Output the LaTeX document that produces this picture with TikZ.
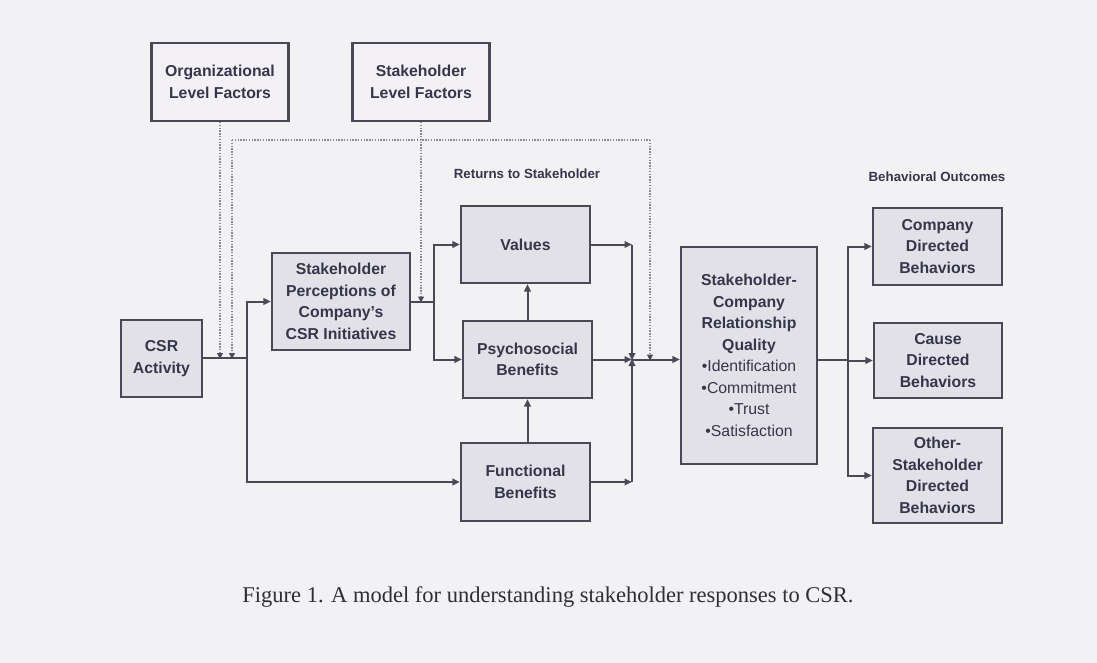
\documentclass[tikz,border=0pt]{standalone}
\usepackage{fontspec}
\setmainfont{Liberation Serif}
\setsansfont{Liberation Sans}
\usetikzlibrary{arrows.meta}
\definecolor{bg}{HTML}{F2F2F4}
\definecolor{boxfill}{HTML}{E3E1E8}
\definecolor{boxlight}{HTML}{F3F1F6}
\definecolor{ink}{HTML}{4A4A56}
\definecolor{txt}{HTML}{36364A}
\definecolor{captxt}{HTML}{2E2E34}
\definecolor{dotc}{HTML}{8A8A94}
\tikzset{
  stdbox/.style={draw=ink, line width=2.2pt, fill=boxfill, inner sep=0pt, align=center,
    text=txt, font=\sffamily\bfseries\fontsize{15.8}{21.5}\selectfont},
  topbox/.style={stdbox, fill=boxlight},
  conn/.style={draw=ink, line width=2pt},
  arr/.style={conn, -{Triangle[length=7.5pt,width=6.5pt]}},
  dotarr/.style={draw=dotc, line width=1.1pt, dash pattern=on 1.4pt off 1.4pt, -{Triangle[length=6pt,width=6pt,color=ink]}},
  dotline/.style={draw=dotc, line width=1.1pt, dash pattern=on 1.4pt off 1.4pt},
  headlbl/.style={text=txt, font=\sffamily\bfseries\fontsize{13.3}{15}\selectfont, inner sep=0pt},
}
\begin{document}
\begin{tikzpicture}[x=1pt,y=-1pt]
\useasboundingbox[fill=bg] (0,0) rectangle (1097,663);

% boxes
\node[topbox, minimum width=137pt, minimum height=78pt] (org) at (220,82) {Organizational\\Level Factors};
\node[topbox, minimum width=137pt, minimum height=78pt] (shl) at (421,82) {Stakeholder\\Level Factors};
\node[stdbox, minimum width=81pt, minimum height=77pt] (csr) at (161.5,358.5) {CSR\\Activity};
\node[stdbox, minimum width=138pt, minimum height=97pt] (perc) at (341,301.5) {Stakeholder\\Perceptions of\\Company's\\CSR Initiatives};
\node[stdbox, minimum width=129pt, minimum height=77pt] (val) at (525.5,244.5) {Values};
\node[stdbox, minimum width=129pt, minimum height=77pt] (psy) at (527.5,359.5) {Psychosocial\\Benefits};
\node[stdbox, minimum width=129pt, minimum height=78pt] (fun) at (525.5,482) {Functional\\Benefits};
\node[stdbox, minimum width=136pt, minimum height=217pt] (scrq) at (749,355.5) {Stakeholder-\\Company\\Relationship\\Quality\\\mdseries •Identification\\\mdseries •Commitment\\\mdseries •Trust\\\mdseries •Satisfaction};
\node[stdbox, minimum width=129pt, minimum height=77pt] (comp) at (937.5,246.5) {Company\\Directed\\Behaviors};
\node[stdbox, minimum width=128pt, minimum height=75pt] (cause) at (938,360.5) {Cause\\Directed\\Behaviors};
\node[stdbox, minimum width=129pt, minimum height=95pt] (other) at (937.5,475.5) {Other-\\Stakeholder\\Directed\\Behaviors};

% labels
\node[headlbl] (ret) at (527,174) {Returns to Stakeholder};
\node[headlbl] (beh) at (937,177) {Behavioral Outcomes};
\node[text=captxt, font=\fontsize{22.5}{26}\selectfont, inner sep=0pt] (cap) at (548,597) {Figure 1. A model for understanding stakeholder responses to CSR.};

% junction coordinates
\coordinate (j1) at (247,358);
\coordinate (j2) at (434,301.5);
\coordinate (c1) at (632,244.5);
\coordinate (j3) at (632,359.5);
\coordinate (c2) at (632,482);
\coordinate (j4) at (848,360);
\coordinate (fbL) at (232,140);
\coordinate (fbR) at (650,140);

% solid connectors
\draw[conn] (csr.east |- j1) -- (j1);
\draw[arr] (j1) |- (perc.west);
\draw[arr] (j1) |- (fun.west);
\draw[conn] (perc.east) -- (j2);
\draw[arr] (j2) |- (val.west);
\draw[arr] (j2) |- (psy.west);
\draw[arr] (psy.north) -- (psy.north |- val.south);
\draw[arr] (fun.north -| psy.north) -- (psy.south);
\draw[arr] (val.east) -- (c1);
\draw[arr] (c1) -- ([yshift=-1pt]j3);
\draw[arr] (fun.east) -- (c2);
\draw[arr] (c2) -- ([yshift=1pt]j3);
\draw[arr] (psy.east) -- (j3);
\draw[arr] (j3) -- (j3 -| scrq.west);
\draw[conn] (scrq.east |- j4) -- (j4);
\draw[arr] (j4) |- (comp.west);
\draw[arr] (j4) |- (cause.west);
\draw[arr] (j4) |- (other.west);

% dotted moderators
\draw[dotarr] (org.south) -- ([yshift=-1pt]org.south |- j1);
\draw[dotarr] (fbL) -- ([yshift=-1pt]fbL |- j1);
\draw[dotline] (fbL) -- (fbR);
\draw[dotarr] (fbR) -- ([yshift=-1pt]fbR |- j3);
\draw[dotarr] (shl.south) -- ([yshift=-1pt]shl.south |- j2);
\end{tikzpicture}
\end{document}
